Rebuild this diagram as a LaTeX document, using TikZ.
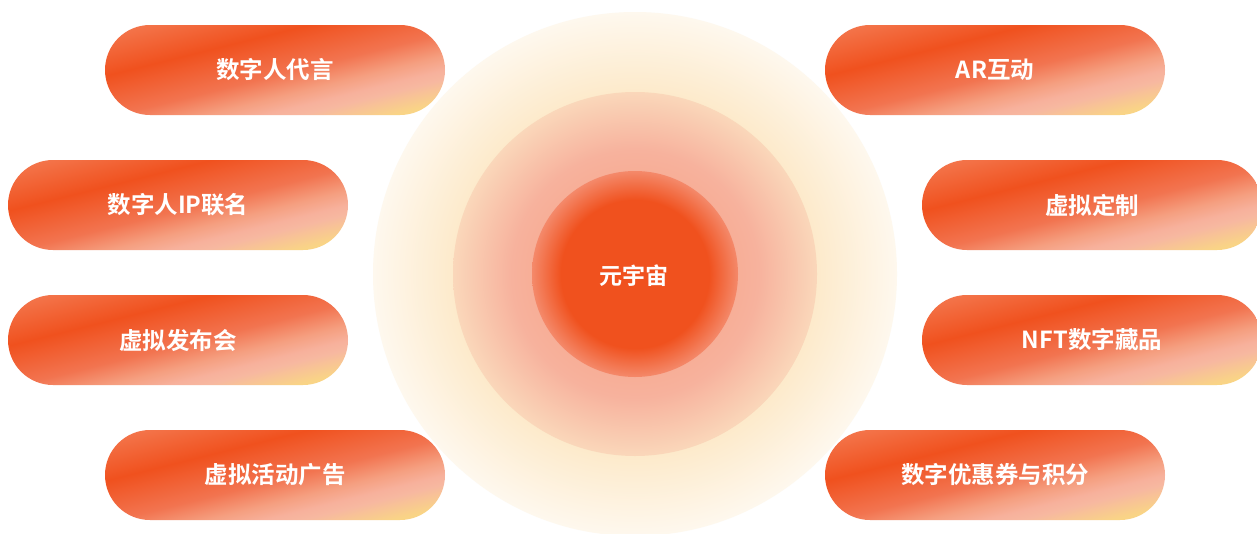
\documentclass[tikz,border=0pt]{standalone}
\usepackage{fontspec}
\newfontfamily\cjk{Noto Sans CJK SC Bold}
\usetikzlibrary{calc}
\definecolor{pY}{HTML}{F9D486}
\definecolor{pP2}{HTML}{F7B8A0}
\definecolor{pP}{HTML}{F7B19C}
\definecolor{pL}{HTML}{F59F80}
\definecolor{pM}{HTML}{F27450}
\definecolor{pD}{HTML}{F0511E}
\definecolor{pT}{HTML}{F47C54}
\definecolor{iA}{HTML}{F0511E}
\definecolor{iB}{HTML}{F4896A}
\definecolor{mA}{HTML}{F7AE97}
\definecolor{mB}{HTML}{F7B29D}
\definecolor{mC}{HTML}{FAD7BA}
\definecolor{oA}{HTML}{FDEACB}
\definecolor{oB}{HTML}{FEF8EE}
\pgfdeclareverticalshading{pillgrad}{100bp}{color(0bp)=(pY); color(32bp)=(pY); color(37.5bp)=(pP2); color(39.7bp)=(pP); color(43.3bp)=(pL); color(48.7bp)=(pM); color(58.9bp)=(pD); color(71.2bp)=(pT); color(100bp)=(pT)}
\pgfdeclareradialshading{innerg}{\pgfpointorigin}{color(0bp)=(iA); color(18bp)=(iA); color(25bp)=(iB); color(50bp)=(iB)}
\pgfdeclareradialshading{middleg}{\pgfpointorigin}{color(0bp)=(mA); color(14bp)=(mA); color(17bp)=(mB); color(25bp)=(mC); color(50bp)=(mC)}
\pgfdeclareradialshading{outerg}{\pgfpointorigin}{color(0bp)=(oA); color(17.4bp)=(oA); color(25bp)=(oB); color(50bp)=(oB)}
\tikzset{
  lbl/.style={text=white, font=\cjk\fontsize{23.5pt}{28pt}\selectfont, inner sep=0pt},
  ctext/.style={text=white, font=\cjk\fontsize{23pt}{27pt}\selectfont, inner sep=0pt}
}
\newcommand\mypill[3]{%
  \begin{scope}
    \clip[rounded corners=45] ($#2+(-170,-45)$) rectangle ($#2+(170,45)$);
    \begin{scope}[transform canvas={shift={#2}, rotate=14.04}]
      \shade[shading=pillgrad] (-220,-100) rectangle (220,100);
    \end{scope}
  \end{scope}
  \node[lbl] (#1) at #2 {#3};
}
\begin{document}
\begin{tikzpicture}[x=1pt,y=-1pt]
  \fill[white] (0,0) rectangle (1257,533);
  \useasboundingbox (0,0) rectangle (1257,533);
  % concentric circles
  \shade[shading=outerg] (635,274) circle (262);
  \shade[shading=middleg] (635,274) circle (182);
  \shade[shading=innerg] (635,274) circle (103);
  \node[ctext] (center) at (634,276) {元宇宙};
  % left pills
  \mypill{l1}{(275,70)}{数字人代言}
  \mypill{l2}{(178,205)}{数字人IP联名}
  \mypill{l3}{(178,340)}{虚拟发布会}
  \mypill{l4}{(275,475)}{虚拟活动广告}
  % right pills
  \mypill{r1}{(995,70)}{AR互动}
  \mypill{r2}{(1092,205)}{虚拟定制}
  \mypill{r3}{(1092,340)}{NFT数字藏品}
  \mypill{r4}{(995,475)}{数字优惠券与积分}
\end{tikzpicture}
\end{document}
